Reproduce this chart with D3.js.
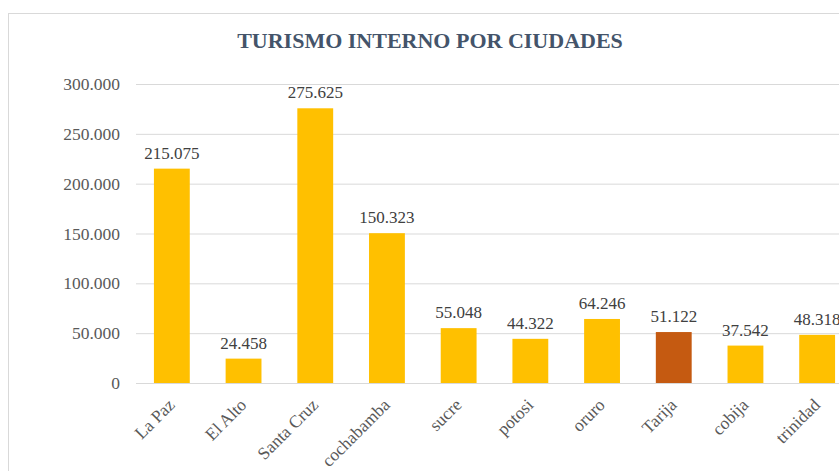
<!DOCTYPE html>
<html>
<head>
<meta charset="utf-8">
<script src="https://cdn.jsdelivr.net/npm/d3@7"></script>
<style>
  body { margin: 0; background: #fff; }
  svg { display: block; font-family: "Liberation Serif", "Times New Roman", serif; }
</style>
</head>
<body>
<div id="chart"></div>
<script>
const cities = ['La Paz', 'El Alto', 'Santa Cruz', 'cochabamba', 'sucre', 'potosi', 'oruro', 'Tarija', 'cobija', 'trinidad'];
const visitors = [215075, 24458, 275625, 150323, 55048, 44322, 64246, 51122, 37542, 48318];
const highlighted = ['Tarija'];
const yTicks = [0, 50000, 100000, 150000, 200000, 250000, 300000];

const width = 839, height = 471;
const margin = {top: 84, left: 136, bottom: 88};
const plotRight = 853; // chart runs past the picture's right edge

const svg = d3.select('#chart').append('svg')
    .attr('width', width)
    .attr('height', height);

// chart frame
svg.append('rect')
    .attr('x', 8.5).attr('y', 13.5)
    .attr('width', 900).attr('height', 500)
    .attr('fill', 'none')
    .attr('stroke', '#d9d9d9');

svg.append('text')
    .attr('x', 430).attr('y', 48)
    .attr('text-anchor', 'middle')
    .attr('font-size', 22)
    .attr('font-weight', 'bold')
    .attr('fill', '#44546a')
    .text('TURISMO INTERNO POR CIUDADES');

const x = d3.scaleBand()
    .domain(cities)
    .range([margin.left, plotRight])
    .paddingInner(0.5)
    .paddingOuter(0.25);

const y = d3.scaleLinear()
    .domain([0, 300000])
    .range([height - margin.bottom, margin.top]);

const fmt = v => d3.format(',')(v).replace(/,/g, '.');

// gridlines + y labels
const yAxis = d3.axisLeft(y)
    .tickValues(yTicks)
    .tickSize(-(plotRight - margin.left))
    .tickPadding(16)
    .tickFormat(fmt);

const gy = svg.append('g')
    .attr('transform', `translate(${margin.left},0)`)
    .call(yAxis);
gy.select('.domain').remove();
gy.selectAll('line').attr('stroke', '#d9d9d9');
gy.selectAll('text')
    .attr('font-size', 17.5)
    .attr('font-family', '"Liberation Serif", "Times New Roman", serif')
    .attr('fill', '#595959');

// bars
svg.append('g').selectAll('rect')
    .data(cities)
    .join('rect')
    .attr('x', d => x(d))
    .attr('y', (d, i) => y(visitors[i]))
    .attr('width', x.bandwidth())
    .attr('height', (d, i) => y(0) - y(visitors[i]))
    .attr('fill', d => highlighted.includes(d) ? '#c55a11' : '#ffc000');

// value labels
svg.append('g').selectAll('text')
    .data(cities)
    .join('text')
    .attr('x', d => x(d) + x.bandwidth() / 2)
    .attr('y', (d, i) => y(visitors[i]) - 10)
    .attr('text-anchor', 'middle')
    .attr('font-size', 17)
    .attr('fill', '#404040')
    .text((d, i) => fmt(visitors[i]));

// x axis
const xAxis = d3.axisBottom(x).tickSize(0).tickPadding(0);
const gx = svg.append('g')
    .attr('transform', `translate(0,${y(0)})`)
    .call(xAxis);
gx.select('.domain').attr('stroke', '#d9d9d9');
gx.selectAll('text')
    .attr('font-size', 17.5)
    .attr('font-family', '"Liberation Serif", "Times New Roman", serif')
    .attr('fill', '#595959')
    .attr('text-anchor', 'end')
    .attr('dy', 0)
    .attr('transform', 'translate(4,23) rotate(-45)');
</script>
</body>
</html>
